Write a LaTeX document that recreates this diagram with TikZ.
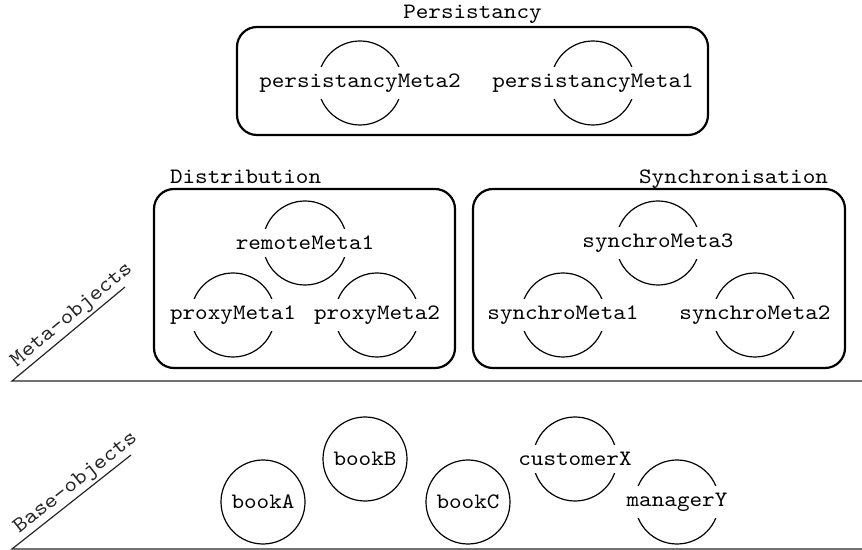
\documentclass[tikz,border=0pt]{standalone}
\usepackage{fontspec}
\setmonofont{lmmono10-regular.otf}[FakeStretch=1.09]
\usetikzlibrary{positioning}
\tikzstyle{every picture} = [x=0.5pt, y=-0.5pt, font=\ttfamily\fontsize{11}{13}\selectfont]
\tikzstyle{obj} = [circle, draw, line width=0.6pt, minimum size=42pt, inner sep=0pt]
\tikzstyle{layer} = [draw, rounded corners=10pt, line width=1.1pt]
\tikzstyle{rule} = [draw, black!85, line width=0.6pt]
\tikzset{meta/.style={obj, label={[fill=white, inner xsep=1pt, inner ysep=3.5pt]center:#1}}}
\begin{document}
\begin{tikzpicture}
            \useasboundingbox (0,0) rectangle (862,550);
            % levels
            \coordinate (meta 0) at (12,381);
            \coordinate (meta 1) at (862,381);
            \coordinate (meta 2) at (125,287);
            \coordinate (base 0) at (12,549);
            \coordinate (base 1) at (862,549);
            \coordinate (base 2) at (131,455);
            \path[rule] (meta 1) -- (meta 0) -- node[sloped, above, pos=0.6, inner sep=1pt] {Meta-objects} (meta 2);
            \path[rule] (base 1) -- (base 0) -- node[sloped, above, pos=0.6, inner sep=1pt] {Base-objects} (base 2);

            % groups
            \node (box 1) [layer, minimum width=235.5pt, minimum height=54pt] at (472.5,81) {};
            \node (box 2) [layer, minimum width=150.5pt, minimum height=89.5pt] at (304.5,278.5) {};
            \node (box 3) [layer, minimum width=186pt, minimum height=89.5pt] at (659,278.5) {};
            \node [above=1pt of box 1, inner sep=0pt] {Persistancy};
            \node [anchor=base west] at (163,184) {Distribution};
            \node [anchor=base east] at (835,184) {Synchronisation};

            % meta-objects
            \node (persist 2) [meta=persistancyMeta2] at (360,83) {};
            \node (persist 1) [meta=persistancyMeta1] at (593,83) {};
            \node (remote 1) [meta=remoteMeta1] at (305,243) {};
            \node (proxy 1) [meta=proxyMeta1] at (233,315) {};
            \node (proxy 2) [meta=proxyMeta2] at (377,315) {};
            \node (synchro 3) [meta=synchroMeta3] at (658,243) {};
            \node (synchro 1) [meta=synchroMeta1] at (563,315) {};
            \node (synchro 2) [meta=synchroMeta2] at (755,315) {};

            % base-objects
            \node (book A) [obj] at (263,502) {bookA};
            \node (book B) [obj] at (365,459) {bookB};
            \node (book C) [obj] at (468,502) {bookC};
            \node (customer X) [meta=customerX] at (575,459) {};
            \node (manager Y) [meta=managerY] at (677,502) {};
        \end{tikzpicture}
\end{document}
